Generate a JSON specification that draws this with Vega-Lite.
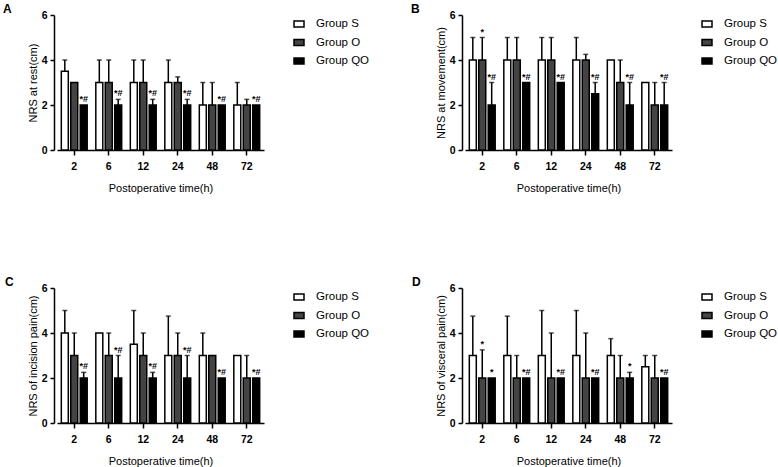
{
  "$schema": "https://vega.github.io/schema/vega-lite/v6.json",
  "autosize": {"type": "pad"},
  "padding": {"left": 3, "top": 3, "right": 3, "bottom": 3},
  "background": "white",
  "datasets": {
    "rest": [
      {"time": "2", "group": "Group S", "v": 3.5, "hi": 4, "sig": ""},
      {"time": "2", "group": "Group O", "v": 3, "hi": 3, "sig": ""},
      {"time": "2", "group": "Group QO", "v": 2, "hi": 2, "sig": "*#"},
      {"time": "6", "group": "Group S", "v": 3, "hi": 4, "sig": ""},
      {"time": "6", "group": "Group O", "v": 3, "hi": 4, "sig": ""},
      {"time": "6", "group": "Group QO", "v": 2, "hi": 2.25, "sig": "*#"},
      {"time": "12", "group": "Group S", "v": 3, "hi": 4, "sig": ""},
      {"time": "12", "group": "Group O", "v": 3, "hi": 4, "sig": ""},
      {"time": "12", "group": "Group QO", "v": 2, "hi": 2.25, "sig": "*#"},
      {"time": "24", "group": "Group S", "v": 3, "hi": 4, "sig": ""},
      {"time": "24", "group": "Group O", "v": 3, "hi": 3.25, "sig": ""},
      {"time": "24", "group": "Group QO", "v": 2, "hi": 2.25, "sig": "*#"},
      {"time": "48", "group": "Group S", "v": 2, "hi": 3, "sig": ""},
      {"time": "48", "group": "Group O", "v": 2, "hi": 3, "sig": ""},
      {"time": "48", "group": "Group QO", "v": 2, "hi": 2, "sig": "*#"},
      {"time": "72", "group": "Group S", "v": 2, "hi": 3, "sig": ""},
      {"time": "72", "group": "Group O", "v": 2, "hi": 2.25, "sig": ""},
      {"time": "72", "group": "Group QO", "v": 2, "hi": 2, "sig": "*#"}
    ],
    "movement": [
      {"time": "2", "group": "Group S", "v": 4, "hi": 5, "sig": ""},
      {"time": "2", "group": "Group O", "v": 4, "hi": 5, "sig": "*"},
      {"time": "2", "group": "Group QO", "v": 2, "hi": 3, "sig": "*#"},
      {"time": "6", "group": "Group S", "v": 4, "hi": 5, "sig": ""},
      {"time": "6", "group": "Group O", "v": 4, "hi": 5, "sig": ""},
      {"time": "6", "group": "Group QO", "v": 3, "hi": 3, "sig": "*#"},
      {"time": "12", "group": "Group S", "v": 4, "hi": 5, "sig": ""},
      {"time": "12", "group": "Group O", "v": 4, "hi": 5, "sig": ""},
      {"time": "12", "group": "Group QO", "v": 3, "hi": 3, "sig": "*#"},
      {"time": "24", "group": "Group S", "v": 4, "hi": 5, "sig": ""},
      {"time": "24", "group": "Group O", "v": 4, "hi": 4.25, "sig": ""},
      {"time": "24", "group": "Group QO", "v": 2.5, "hi": 3, "sig": "*#"},
      {"time": "48", "group": "Group S", "v": 4, "hi": 4, "sig": ""},
      {"time": "48", "group": "Group O", "v": 3, "hi": 4, "sig": ""},
      {"time": "48", "group": "Group QO", "v": 2, "hi": 3, "sig": "*#"},
      {"time": "72", "group": "Group S", "v": 3, "hi": 3, "sig": ""},
      {"time": "72", "group": "Group O", "v": 2, "hi": 3, "sig": ""},
      {"time": "72", "group": "Group QO", "v": 2, "hi": 3, "sig": "*#"}
    ],
    "incision": [
      {"time": "2", "group": "Group S", "v": 4, "hi": 5, "sig": ""},
      {"time": "2", "group": "Group O", "v": 3, "hi": 4, "sig": ""},
      {"time": "2", "group": "Group QO", "v": 2, "hi": 2.25, "sig": "*#"},
      {"time": "6", "group": "Group S", "v": 4, "hi": 4, "sig": ""},
      {"time": "6", "group": "Group O", "v": 3, "hi": 4, "sig": ""},
      {"time": "6", "group": "Group QO", "v": 2, "hi": 3, "sig": "*#"},
      {"time": "12", "group": "Group S", "v": 3.5, "hi": 5, "sig": ""},
      {"time": "12", "group": "Group O", "v": 3, "hi": 4, "sig": ""},
      {"time": "12", "group": "Group QO", "v": 2, "hi": 2.25, "sig": "*#"},
      {"time": "24", "group": "Group S", "v": 3, "hi": 4.75, "sig": ""},
      {"time": "24", "group": "Group O", "v": 3, "hi": 4, "sig": ""},
      {"time": "24", "group": "Group QO", "v": 2, "hi": 3, "sig": "*#"},
      {"time": "48", "group": "Group S", "v": 3, "hi": 4, "sig": ""},
      {"time": "48", "group": "Group O", "v": 3, "hi": 3, "sig": ""},
      {"time": "48", "group": "Group QO", "v": 2, "hi": 2, "sig": "*#"},
      {"time": "72", "group": "Group S", "v": 3, "hi": 3, "sig": ""},
      {"time": "72", "group": "Group O", "v": 2, "hi": 3, "sig": ""},
      {"time": "72", "group": "Group QO", "v": 2, "hi": 2, "sig": "*#"}
    ],
    "visceral": [
      {"time": "2", "group": "Group S", "v": 3, "hi": 4.75, "sig": ""},
      {"time": "2", "group": "Group O", "v": 2, "hi": 3.25, "sig": "*"},
      {"time": "2", "group": "Group QO", "v": 2, "hi": 2, "sig": "*"},
      {"time": "6", "group": "Group S", "v": 3, "hi": 4.75, "sig": ""},
      {"time": "6", "group": "Group O", "v": 2, "hi": 3, "sig": ""},
      {"time": "6", "group": "Group QO", "v": 2, "hi": 2, "sig": "*#"},
      {"time": "12", "group": "Group S", "v": 3, "hi": 5, "sig": ""},
      {"time": "12", "group": "Group O", "v": 2, "hi": 4, "sig": ""},
      {"time": "12", "group": "Group QO", "v": 2, "hi": 2, "sig": "*#"},
      {"time": "24", "group": "Group S", "v": 3, "hi": 5, "sig": ""},
      {"time": "24", "group": "Group O", "v": 2, "hi": 4, "sig": ""},
      {"time": "24", "group": "Group QO", "v": 2, "hi": 2, "sig": "*#"},
      {"time": "48", "group": "Group S", "v": 3, "hi": 3.75, "sig": ""},
      {"time": "48", "group": "Group O", "v": 2, "hi": 3, "sig": ""},
      {"time": "48", "group": "Group QO", "v": 2, "hi": 2.25, "sig": "*"},
      {"time": "72", "group": "Group S", "v": 2.5, "hi": 3, "sig": ""},
      {"time": "72", "group": "Group O", "v": 2, "hi": 3, "sig": ""},
      {"time": "72", "group": "Group QO", "v": 2, "hi": 2, "sig": "*#"}
    ]
  },
  "spacing": 273,
  "bounds": "flush",
  "resolve": {"scale": {"fill": "independent", "y": "independent", "x": "independent"}, "legend": {"fill": "independent"}},
  "vconcat": [
    {
      "spacing": 201,
      "bounds": "flush",
      "resolve": {"scale": {"fill": "independent", "y": "independent", "x": "independent"}, "legend": {"fill": "independent"}},
      "hconcat": [
        {
          "data": {"name": "rest"},
          "width": 207, "height": 135,
          "title": {"text": "A", "dx": -54},
          "encoding": {
            "x": {"field": "time", "type": "ordinal", "sort": ["2", "6", "12", "24", "48", "72"], "scale": {"paddingInner": 0.25, "paddingOuter": 0.125}, "axis": {"title": "Postoperative time(h)"}},
            "xOffset": {"field": "group", "type": "nominal", "sort": ["Group S", "Group O", "Group QO"], "scale": {"paddingInner": 0.26}}
          },
          "layer": [
            {"mark": {"type": "bar", "stroke": "black", "strokeWidth": 1.5},
             "encoding": {
               "y": {"field": "v", "type": "quantitative", "scale": {"domain": [0, 6]}, "axis": {"title": "NRS at rest(cm)"}},
               "fill": {"field": "group", "type": "nominal", "scale": {"domain": ["Group S", "Group O", "Group QO"], "range": ["white", "#444444", "black"]}}
             }},
            {"mark": {"type": "rule", "strokeWidth": 1.5, "color": "black"},
             "encoding": {"y": {"field": "v", "type": "quantitative"}, "y2": {"field": "hi"}}},
            {"transform": [{"filter": "datum.hi > datum.v"}],
             "mark": {"type": "tick", "orient": "horizontal", "size": 5, "thickness": 1.5, "color": "black"},
             "encoding": {"y": {"field": "hi", "type": "quantitative"}}},
            {"transform": [{"filter": "datum.sig != ''"}],
             "mark": {"type": "text", "baseline": "bottom", "dy": -1, "fontWeight": "bold", "fontSize": 9, "font": "Liberation Sans", "fill": "black"},
             "encoding": {"y": {"field": "hi", "type": "quantitative"}, "text": {"field": "sig"}}}
          ]
        },
        {
          "data": {"name": "movement"},
          "width": 207, "height": 135,
          "title": {"text": "B", "dx": -54},
          "encoding": {
            "x": {"field": "time", "type": "ordinal", "sort": ["2", "6", "12", "24", "48", "72"], "scale": {"paddingInner": 0.25, "paddingOuter": 0.125}, "axis": {"title": "Postoperative time(h)"}},
            "xOffset": {"field": "group", "type": "nominal", "sort": ["Group S", "Group O", "Group QO"], "scale": {"paddingInner": 0.26}}
          },
          "layer": [
            {"mark": {"type": "bar", "stroke": "black", "strokeWidth": 1.5},
             "encoding": {
               "y": {"field": "v", "type": "quantitative", "scale": {"domain": [0, 6]}, "axis": {"title": "NRS at movement(cm)"}},
               "fill": {"field": "group", "type": "nominal", "scale": {"domain": ["Group S", "Group O", "Group QO"], "range": ["white", "#444444", "black"]}}
             }},
            {"mark": {"type": "rule", "strokeWidth": 1.5, "color": "black"},
             "encoding": {"y": {"field": "v", "type": "quantitative"}, "y2": {"field": "hi"}}},
            {"transform": [{"filter": "datum.hi > datum.v"}],
             "mark": {"type": "tick", "orient": "horizontal", "size": 5, "thickness": 1.5, "color": "black"},
             "encoding": {"y": {"field": "hi", "type": "quantitative"}}},
            {"transform": [{"filter": "datum.sig != ''"}],
             "mark": {"type": "text", "baseline": "bottom", "dy": -1, "fontWeight": "bold", "fontSize": 9, "font": "Liberation Sans", "fill": "black"},
             "encoding": {"y": {"field": "hi", "type": "quantitative"}, "text": {"field": "sig"}}}
          ]
        }
      ]
    },
    {
      "spacing": 201,
      "bounds": "flush",
      "resolve": {"scale": {"fill": "independent", "y": "independent", "x": "independent"}, "legend": {"fill": "independent"}},
      "hconcat": [
        {
          "data": {"name": "incision"},
          "width": 207, "height": 135,
          "title": {"text": "C", "dx": -52},
          "encoding": {
            "x": {"field": "time", "type": "ordinal", "sort": ["2", "6", "12", "24", "48", "72"], "scale": {"paddingInner": 0.25, "paddingOuter": 0.125}, "axis": {"title": "Postoperative time(h)"}},
            "xOffset": {"field": "group", "type": "nominal", "sort": ["Group S", "Group O", "Group QO"], "scale": {"paddingInner": 0.26}}
          },
          "layer": [
            {"mark": {"type": "bar", "stroke": "black", "strokeWidth": 1.5},
             "encoding": {
               "y": {"field": "v", "type": "quantitative", "scale": {"domain": [0, 6]}, "axis": {"title": "NRS of incision pain(cm)"}},
               "fill": {"field": "group", "type": "nominal", "scale": {"domain": ["Group S", "Group O", "Group QO"], "range": ["white", "#444444", "black"]}}
             }},
            {"mark": {"type": "rule", "strokeWidth": 1.5, "color": "black"},
             "encoding": {"y": {"field": "v", "type": "quantitative"}, "y2": {"field": "hi"}}},
            {"transform": [{"filter": "datum.hi > datum.v"}],
             "mark": {"type": "tick", "orient": "horizontal", "size": 5, "thickness": 1.5, "color": "black"},
             "encoding": {"y": {"field": "hi", "type": "quantitative"}}},
            {"transform": [{"filter": "datum.sig != ''"}],
             "mark": {"type": "text", "baseline": "bottom", "dy": -1, "fontWeight": "bold", "fontSize": 9, "font": "Liberation Sans", "fill": "black"},
             "encoding": {"y": {"field": "hi", "type": "quantitative"}, "text": {"field": "sig"}}}
          ]
        },
        {
          "data": {"name": "visceral"},
          "width": 207, "height": 135,
          "title": {"text": "D", "dx": -53},
          "encoding": {
            "x": {"field": "time", "type": "ordinal", "sort": ["2", "6", "12", "24", "48", "72"], "scale": {"paddingInner": 0.25, "paddingOuter": 0.125}, "axis": {"title": "Postoperative time(h)"}},
            "xOffset": {"field": "group", "type": "nominal", "sort": ["Group S", "Group O", "Group QO"], "scale": {"paddingInner": 0.26}}
          },
          "layer": [
            {"mark": {"type": "bar", "stroke": "black", "strokeWidth": 1.5},
             "encoding": {
               "y": {"field": "v", "type": "quantitative", "scale": {"domain": [0, 6]}, "axis": {"title": "NRS of visceral pain(cm)"}},
               "fill": {"field": "group", "type": "nominal", "scale": {"domain": ["Group S", "Group O", "Group QO"], "range": ["white", "#444444", "black"]}}
             }},
            {"mark": {"type": "rule", "strokeWidth": 1.5, "color": "black"},
             "encoding": {"y": {"field": "v", "type": "quantitative"}, "y2": {"field": "hi"}}},
            {"transform": [{"filter": "datum.hi > datum.v"}],
             "mark": {"type": "tick", "orient": "horizontal", "size": 5, "thickness": 1.5, "color": "black"},
             "encoding": {"y": {"field": "hi", "type": "quantitative"}}},
            {"transform": [{"filter": "datum.sig != ''"}],
             "mark": {"type": "text", "baseline": "bottom", "dy": -1, "fontWeight": "bold", "fontSize": 9, "font": "Liberation Sans", "fill": "black"},
             "encoding": {"y": {"field": "hi", "type": "quantitative"}, "text": {"field": "sig"}}}
          ]
        }
      ]
    }
  ],
  "config": {
    "font": "Liberation Sans",
    "view": {"stroke": null},
    "title": {"anchor": "start", "frame": "group", "fontSize": 12, "fontWeight": "bold", "font": "Liberation Sans", "color": "black", "offset": -6},
    "axis": {"domainColor": "black", "domainWidth": 1.5, "tickColor": "black", "tickWidth": 1.5, "labelColor": "black", "titleColor": "black", "labelFont": "Liberation Sans", "labelFontWeight": "bold", "labelFontSize": 10.5, "titleFont": "Liberation Sans", "titleFontSize": 11, "titleFontWeight": "normal", "grid": false},
    "axisX": {"labelAngle": 0, "tickSize": 5, "labelPadding": 6, "titlePadding": 11},
    "axisY": {"tickSize": 4, "labelPadding": 3, "titlePadding": 3, "offset": 3, "values": [0, 1, 2, 3, 4, 5, 6]},
    "legend": {"title": null, "orient": "right", "offset": 26, "padding": 3, "symbolType": "M-1,-0.6H1V0.6H-1Z", "symbolSize": 100, "symbolStrokeColor": "black", "symbolStrokeWidth": 1.5, "labelFont": "Liberation Sans", "labelFontSize": 11.5, "labelColor": "black", "labelOffset": 11, "rowPadding": 6.5}
  }
}
